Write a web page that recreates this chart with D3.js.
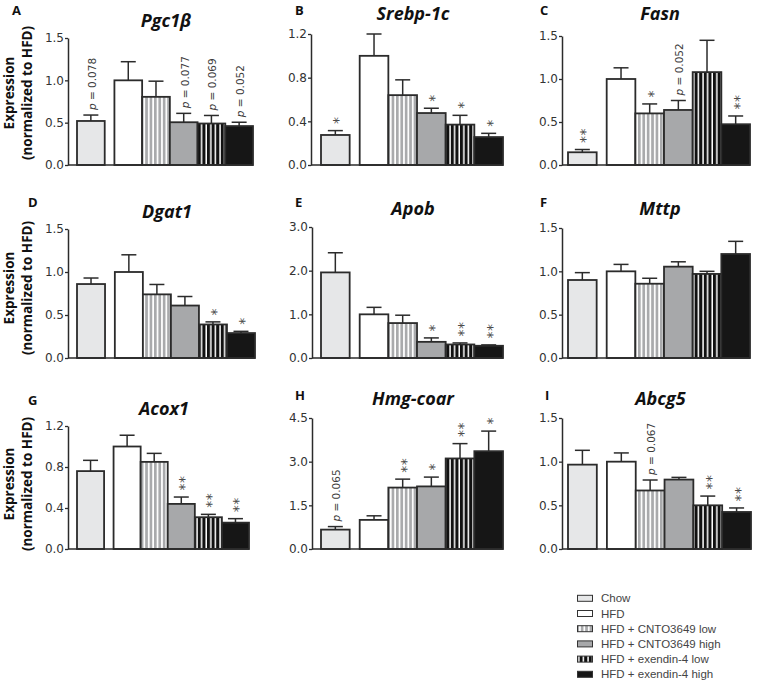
<!DOCTYPE html>
<html><head><meta charset="utf-8">
<script src="https://cdn.jsdelivr.net/npm/d3@7"></script>
<style>body{margin:0;background:#fff;} svg{display:block;} .ann{opacity:0.99;}</style>
</head><body>
<svg id="chart" width="764" height="684"></svg>
<script>
// ---------- DATA ----------
const groups = ["Chow","HFD","HFD + CNTO3649 low","HFD + CNTO3649 high","HFD + exendin-4 low","HFD + exendin-4 high"];
const genes = ["Pgc1\u03B2","Srebp-1c","Fasn","Dgat1","Apob","Mttp","Acox1","Hmg-coar","Abcg5"];
const letters = ["A","B","C","D","E","F","G","H","I"];

const pgc1bMean = [0.52,1.0,0.805,0.505,0.49,0.46];
const pgc1bSem  = [0.07,0.22,0.185,0.105,0.095,0.045];
const pgc1bSig  = ["p = 0.078","","","p = 0.077","p = 0.069","p = 0.052"];

const srebpMean = [0.275,1.0,0.64,0.476,0.37,0.256];
const srebpSem  = [0.04,0.2,0.14,0.044,0.085,0.034];
const srebpSig  = ["*","","","*","*","*"];

const fasnMean = [0.148,1.0,0.6,0.64,1.08,0.474];
const fasnSem  = [0.032,0.13,0.11,0.11,0.37,0.096];
const fasnSig  = ["**","","*","p = 0.052","","**"];

const dgat1Mean = [0.86,1.0,0.74,0.61,0.39,0.29];
const dgat1Sem  = [0.07,0.2,0.115,0.105,0.03,0.02];
const dgat1Sig  = ["","","","","*","*"];

const apobMean = [1.96,1.0,0.8,0.37,0.31,0.28];
const apobSem  = [0.45,0.16,0.18,0.09,0.035,0.02];
const apobSig  = ["","","","*","**","**"];

const mttpMean = [0.9,1.0,0.857,1.054,0.97,1.2];
const mttpSem  = [0.085,0.08,0.063,0.056,0.03,0.146];
const mttpSig  = ["","","","","",""];

const acox1Mean = [0.76,1.0,0.85,0.44,0.31,0.257];
const acox1Sem  = [0.105,0.11,0.083,0.067,0.028,0.039];
const acox1Sig  = ["","","","**","**","**"];

const hmgMean = [0.666,1.0,2.11,2.15,3.11,3.36];
const hmgSem  = [0.104,0.14,0.29,0.32,0.51,0.69];
const hmgSig  = ["p = 0.065","","**","*","**","*"];

const abcg5Mean = [0.966,1.0,0.67,0.795,0.5,0.424];
const abcg5Sem  = [0.164,0.1,0.12,0.025,0.106,0.046];
const abcg5Sig  = ["","","p = 0.067","","**","**"];

const yMaxes   = [1.5,1.2,1.5,1.5,3.0,1.5,1.2,4.5,1.5];
const yTickStep= [0.5,0.4,0.5,0.5,1.0,0.5,0.4,1.5,0.5];
const yAxisTitle = ["Expression","(normalized to HFD)"];

const means = [pgc1bMean,srebpMean,fasnMean,dgat1Mean,apobMean,mttpMean,acox1Mean,hmgMean,abcg5Mean];
const sems  = [pgc1bSem,srebpSem,fasnSem,dgat1Sem,apobSem,mttpSem,acox1Sem,hmgSem,abcg5Sem];
const sigs  = [pgc1bSig,srebpSig,fasnSig,dgat1Sig,apobSig,mttpSig,acox1Sig,hmgSig,abcg5Sig];

// ---------- LAYOUT ----------
const layout = [
  {ax:68,  x0:77,  x1:253, yb:165, yt:38,  lx:12,  ly:15,  ty:27},
  {ax:311, x0:321, x1:503, yb:165, yt:34,  lx:295, ly:15,  ty:20},
  {ax:562, x0:568, x1:750, yb:165, yt:36,  lx:540, ly:15,  ty:20},
  {ax:68,  x0:77,  x1:255, yb:358, yt:229, lx:28,  ly:207, ty:218},
  {ax:312, x0:321, x1:503, yb:358, yt:227, lx:295, ly:207, ty:215},
  {ax:562, x0:568, x1:750, yb:358, yt:228, lx:540, ly:207, ty:215},
  {ax:68,  x0:77,  x1:249, yb:549, yt:426, lx:28,  ly:405, ty:415},
  {ax:312, x0:321, x1:503, yb:549, yt:418, lx:295, ly:400, ty:405},
  {ax:562, x0:568, x1:751, yb:549, yt:418, lx:545, ly:400, ty:405}
];
const rowCenters = [93, 288, 484];
const gapF = 0.35;
const dark = "#2b2b2b";

const svg = d3.select("#chart");
const defs = svg.append("defs");
// patterns
const p1 = defs.append("pattern").attr("id","cntoLow").attr("patternUnits","userSpaceOnUse")
  .attr("width",4.4).attr("height",10);
p1.append("rect").attr("width",4.4).attr("height",10).attr("fill","#ffffff");
p1.append("rect").attr("width",2.7).attr("height",10).attr("fill","#a9aaac");
const p2 = defs.append("pattern").attr("id","exLow").attr("patternUnits","userSpaceOnUse")
  .attr("width",4.6).attr("height",10);
p2.append("rect").attr("width",4.6).attr("height",10).attr("fill","#111111");
p2.append("rect").attr("x",3.1).attr("width",1.5).attr("height",10).attr("fill","#ffffff");

const fills = d3.scaleOrdinal().domain(groups)
  .range(["#e6e7e8","#ffffff","url(#cntoLow)","#a7a8aa","url(#exLow)","#161616"]);

genes.forEach((gene, gi) => {
  const L = layout[gi];
  const g = svg.append("g");
  const x = d3.scaleLinear().domain([0, 6 + gapF]).range([L.x0, L.x1]);
  const slot = i => i + (i > 0 ? gapF : 0);
  const bw = x(1) - x(0);
  const y = d3.scaleLinear().domain([0, yMaxes[gi]]).range([L.yb, L.yt]);
  const ticks = d3.range(0, yMaxes[gi] + 1e-9, yTickStep[gi]);

  const rows = groups.map((grp, i) => ({grp, i, m: means[gi][i], s: sems[gi][i], sig: sigs[gi][i]}));

  // bars
  g.selectAll("rect.bar").data(rows).join("rect")
    .attr("x", d => x(slot(d.i)))
    .attr("y", d => y(d.m))
    .attr("width", bw)
    .attr("height", d => y(0) - y(d.m))
    .attr("fill", d => fills(d.grp))
    .attr("stroke", dark).attr("stroke-width", 1.8);

  // error bars
  const cx = d => x(slot(d.i)) + bw / 2;
  g.selectAll("line.ev").data(rows).join("line")
    .attr("x1", cx).attr("x2", cx)
    .attr("y1", d => y(d.m)).attr("y2", d => y(d.m + d.s))
    .attr("stroke", dark).attr("stroke-width", 1.5);
  g.selectAll("line.eh").data(rows).join("line")
    .attr("x1", d => cx(d) - 7.5).attr("x2", d => cx(d) + 7.5)
    .attr("y1", d => y(d.m + d.s)).attr("y2", d => y(d.m + d.s))
    .attr("stroke", dark).attr("stroke-width", 1.5);

  // annotations
  const an = g.append("g").attr("class", "ann");
  rows.forEach(d => {
    const top = y(d.m + d.s);
    if (d.sig.startsWith("p")) {
      const t = an.append("text")
        .attr("transform", `translate(${cx(d) + 1},${top - 5}) rotate(-90)`)
        .attr("dominant-baseline", "central")
        .attr("font-family", "DejaVu Sans").attr("font-size", 10.5)
        .attr("fill", "#3a3a3a");
      t.append("tspan").attr("font-style", "italic").text("p");
      t.append("tspan").text(d.sig.slice(1));
    } else if (d.sig.length) {
      // stacked asterisks: one text running upward
      an.append("text")
        .attr("transform", `translate(${cx(d) + 0.57 * 14},${top - 6.5}) rotate(-90)`)
        .attr("font-family", "DejaVu Sans").attr("font-size", 14)
        .attr("letter-spacing", 0.5)
        .attr("fill", "#4a4a4a").text(d.sig);
    }
  });

  // y axis
  const axis = d3.axisLeft(y).tickValues(ticks).tickFormat(d3.format(".1f"))
    .tickSize(3).tickSizeOuter(0).tickPadding(1);
  const ag = g.append("g").attr("transform", `translate(${L.ax},0)`).call(axis);
  ag.select(".domain").attr("stroke", dark).attr("stroke-width", 1.5);
  ag.selectAll(".tick line").attr("stroke", dark).attr("stroke-width", 1.3);
  ag.selectAll(".tick text").attr("font-family", "DejaVu Sans").attr("font-size", 12)
    .attr("fill", "#333");
  // baseline
  g.append("line").attr("x1", L.ax).attr("x2", L.x1).attr("y1", y(0)).attr("y2", y(0))
    .attr("stroke", dark).attr("stroke-width", 1.5);

  // title
  g.append("text").attr("x", (L.x0 + L.x1) / 2 + 1).attr("y", L.ty)
    .attr("text-anchor", "middle")
    .attr("font-family", "Open Sans").attr("font-weight", 700).attr("font-style", "italic")
    .attr("font-size", 18).attr("fill", "#111").text(gene);
  // letter
  g.append("text").attr("x", L.lx).attr("y", L.ly)
    .attr("font-family", "Open Sans").attr("font-weight", 700)
    .attr("font-size", 13).attr("fill", "#111").text(letters[gi]);
});

// y axis titles
rowCenters.forEach(cy => {
  yAxisTitle.forEach((t, k) => {
    svg.append("text")
      .attr("transform", `translate(${k === 0 ? 14 : 32},${cy}) rotate(-90)`)
      .attr("text-anchor", "middle")
      .attr("font-family", "Open Sans").attr("font-weight", 700)
      .attr("font-size", 13.5).attr("fill", "#111").text(t);
  });
});

// legend
const lg = svg.append("g");
const ly = d3.scalePoint().domain(groups).range([598.3, 674.3]);
lg.selectAll("rect").data(groups).join("rect")
  .attr("x", 577.5).attr("y", d => ly(d) - 3)
  .attr("width", 15).attr("height", 6)
  .attr("fill", d => fills(d)).attr("stroke", "#333").attr("stroke-width", 1);
lg.selectAll("text").data(groups).join("text")
  .attr("x", 601).attr("y", d => ly(d))
  .attr("dominant-baseline", "central")
  .attr("font-family", "Liberation Sans, Arial").attr("font-size", 11.5)
  .attr("fill", "#444").text(d => d);
</script>
</body></html>
